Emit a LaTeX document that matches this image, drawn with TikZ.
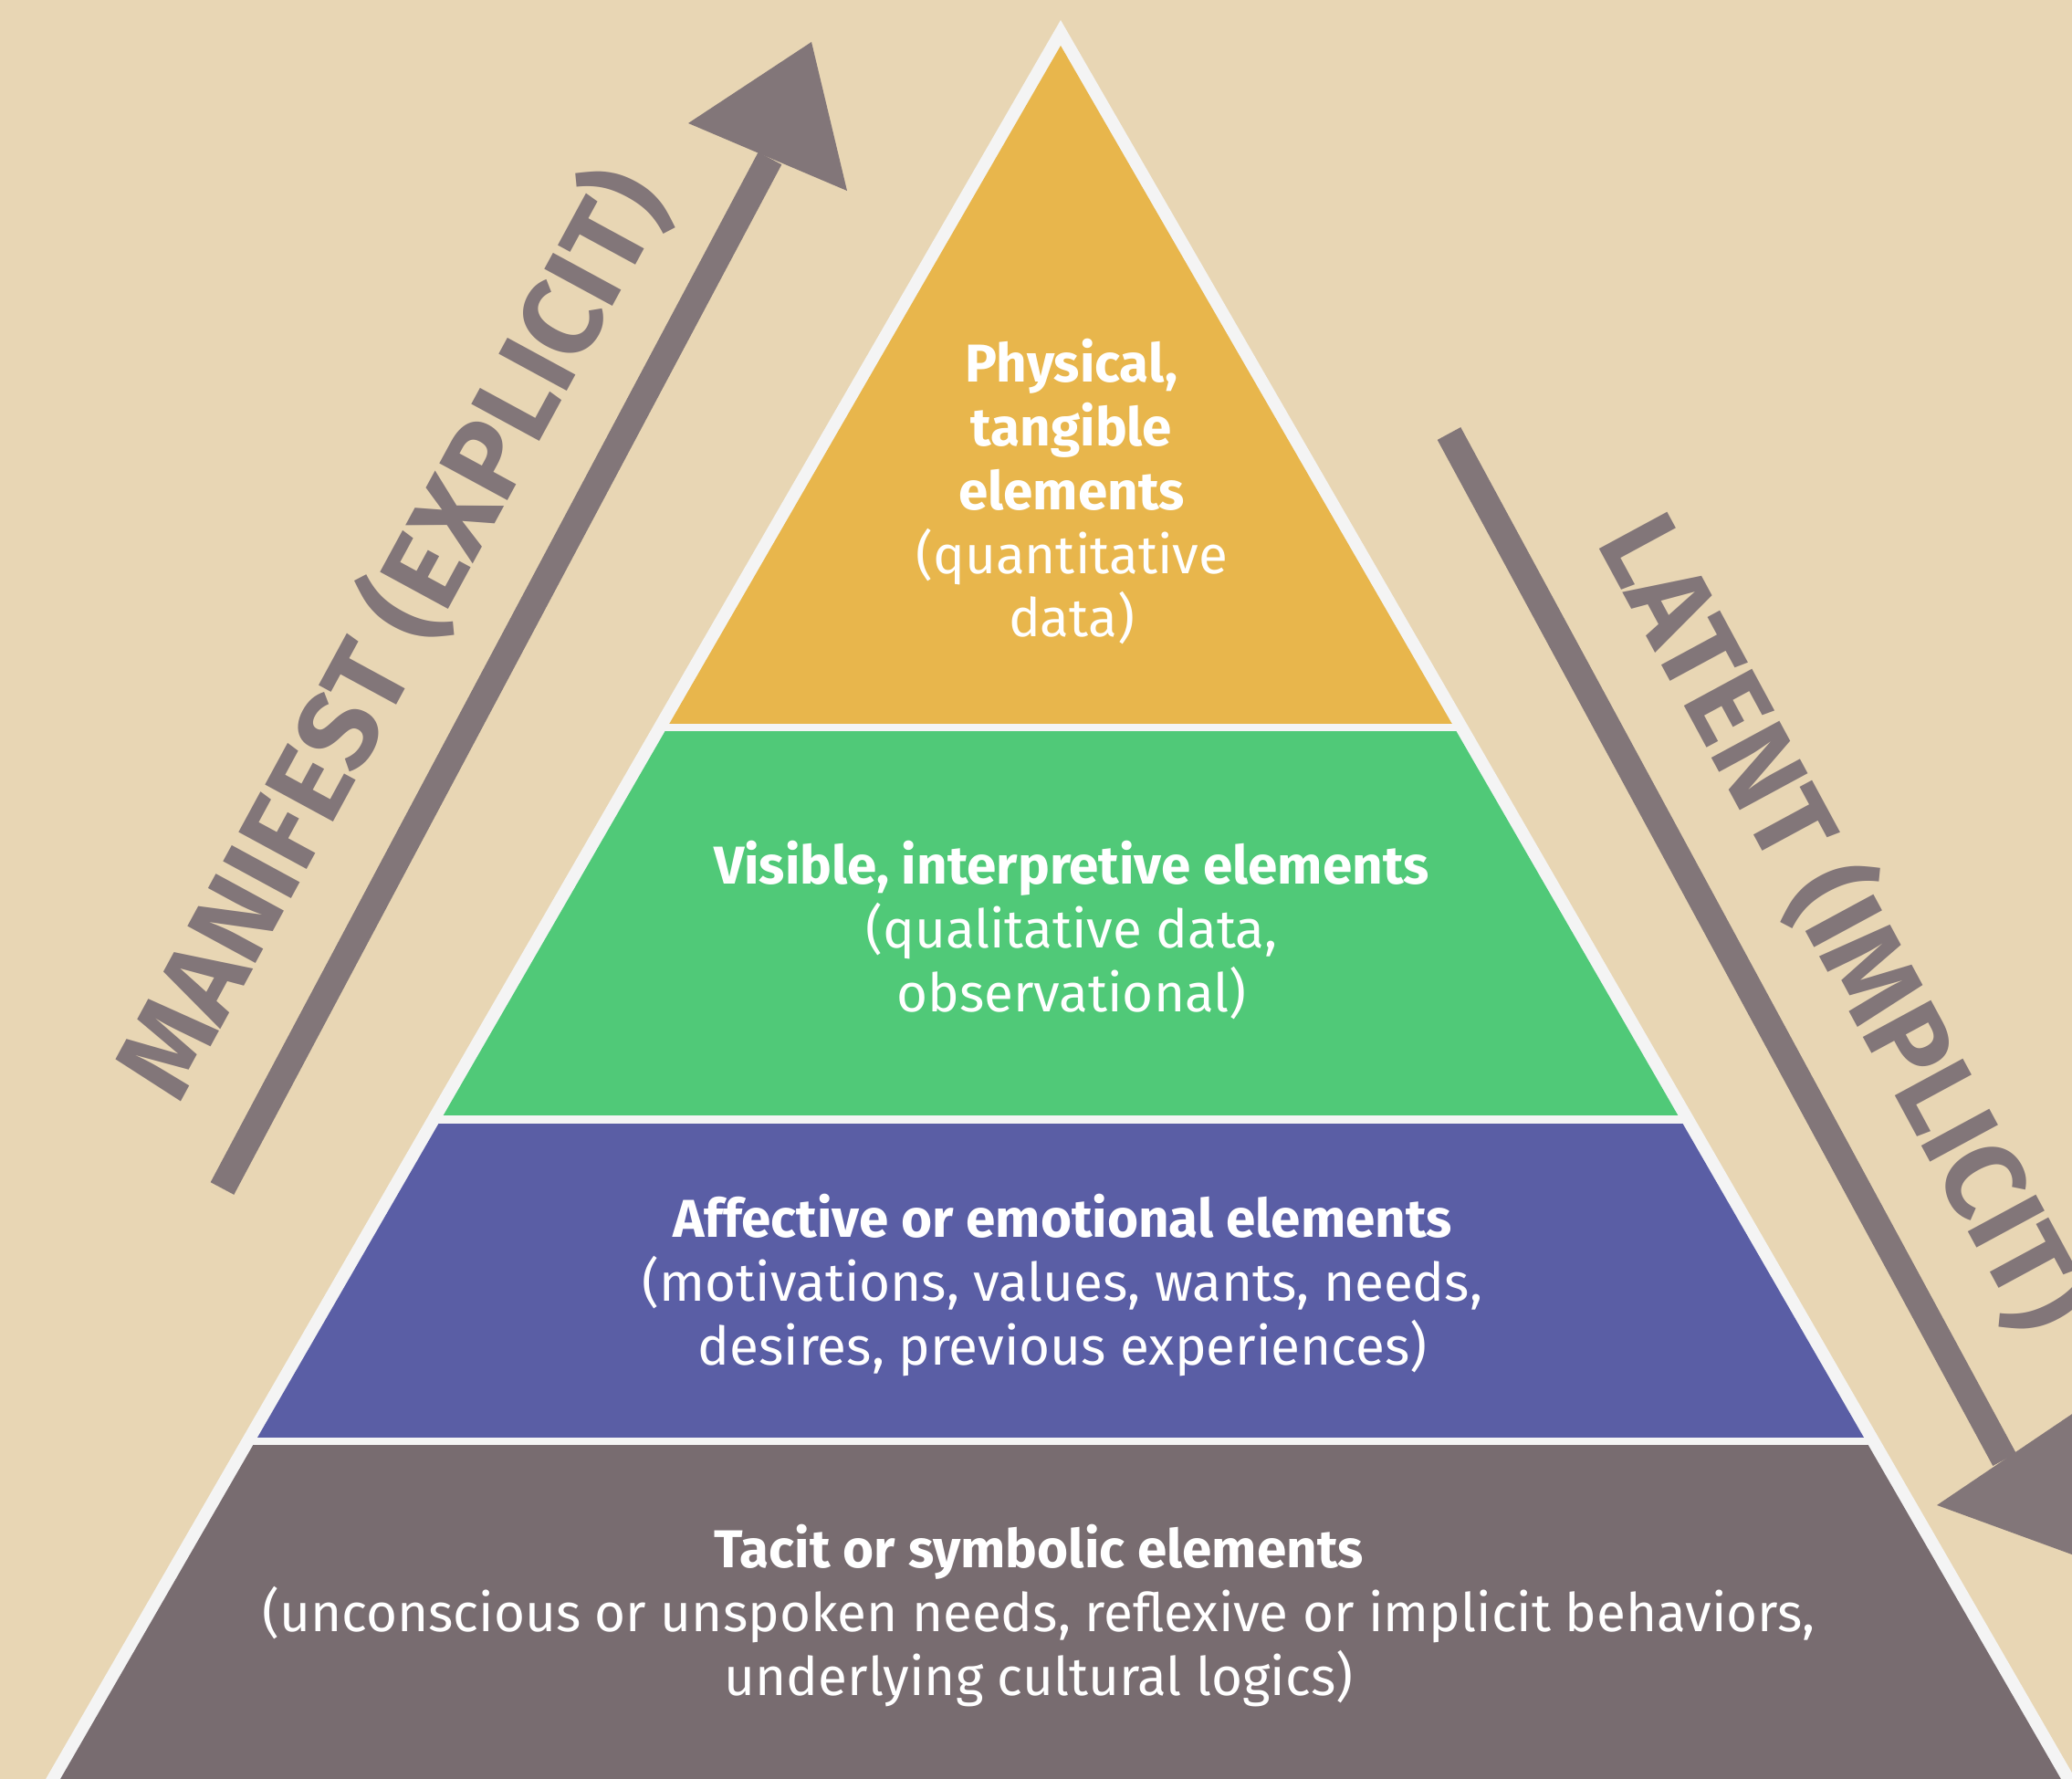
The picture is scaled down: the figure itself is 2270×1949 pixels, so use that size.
\documentclass[tikz,border=0pt]{standalone}
\usepackage{fontspec}
\setmainfont{Fira Sans}
\usepackage{tikz}

\definecolor{sand}{HTML}{E8D6B4}
\definecolor{rim}{HTML}{F4F4F4}
\definecolor{mustard}{HTML}{E8B64C}
\definecolor{leaf}{HTML}{50C978}
\definecolor{indigo}{HTML}{5A5EA5}
\definecolor{taupe}{HTML}{786C70}
\definecolor{pointer}{HTML}{827679}

\begin{document}
\begin{tikzpicture}[
      x=0.01cm, y=-0.01cm,
      shaft/.style={draw=pointer, line width=0.29cm},
      tip/.style={fill=pointer},
      layer/.style={text=white, align=center, inner sep=0pt,
                    font=\fontsize{16.6}{19.9}\selectfont},
      side/.style={text=pointer, inner sep=0pt,
                   font=\fontsize{34.8}{40}\selectfont\bfseries}
    ]
    \useasboundingbox (0,0) rectangle (2270,1949);
    \clip (0,0) rectangle (2270,1949);
    \fill[sand] (0,0) rectangle (2270,1949);

    % pyramid: white rim, then the four layers inside it
    \fill[rim] (1162,22) -- (2361,2100) -- (-37,2100) -- cycle;
    \begin{scope}
      \clip (1162,50) -- (2345,2100) -- (-21,2100) -- cycle;
      \fill[mustard] (0,0) rectangle (2270,793);
      \fill[leaf] (0,801) rectangle (2270,1222);
      \fill[indigo] (0,1231) rectangle (2270,1575);
      \fill[taupe] (0,1583) rectangle (2270,1960);
    \end{scope}

    % layer texts (anchored on the baseline of their last line)
    \node[layer, anchor=base] (physical) at (1174,698)
      {\textbf{Physical,}\\\textbf{tangible}\\\textbf{elements}\\(quantitative\\data)};
    \node[layer, anchor=base] (visible) at (1174,1108)
      {\textbf{Visible, interpretive elements}\\(qualitative data,\\observational)};
    \node[layer, anchor=base] (affective) at (1164,1495)
      {\textbf{Affective or emotional elements}\\(motivations, values, wants, needs,\\desires, previous experiences)};
    \node[layer, anchor=base] (tacit) at (1138,1857)
      {\textbf{Tacit or symbolic elements}\\(unconscious or unspoken needs, reflexive or implicit behaviors,\\underlying cultural logics)};

    % arrow going up on the left
    \coordinate (up tail) at (243.5,1302);
    \coordinate (up head) at (843.5,173.5);
    \draw[shaft] (up tail) -- (up head);
    \fill[tip] (889,46) -- (754,135) -- (928,209) -- cycle;
    \node[side, rotate=61.5, anchor=base] (manifest) at (466,714) {MANIFEST (EXPLICIT)};

    % arrow going down on the right
    \coordinate (down tail) at (1587.5,475);
    \coordinate (down head) at (2196,1599);
    \draw[shaft] (down tail) -- (down head);
    \fill[tip] (2122,1649) -- (2285,1539) -- (2300,1714) -- cycle;
    \node[side, rotate=-61.6, anchor=base] (latent) at (1984,1031) {LATENT (IMPLICIT)};
\end{tikzpicture}
\end{document}
